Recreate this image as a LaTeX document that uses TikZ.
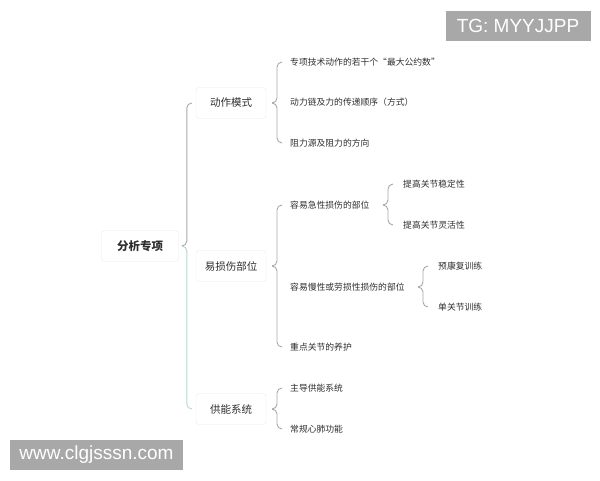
\documentclass[tikz,border=0pt]{standalone}
\usepackage{fontspec}
\usetikzlibrary{calc}
\newfontfamily\cjk{Noto Sans CJK SC}
\newfontfamily\wm{Liberation Sans}
\definecolor{linegrey}{HTML}{ADA5AD}
\definecolor{linegreen}{HTML}{B2DACD}
\definecolor{txt}{HTML}{2E2E2E}
\definecolor{wmgrey}{HTML}{A8A8A8}
% half of a curly bracket: child, parent, gap, colour
\newcommand{\halfbrace}[4]{%
  \draw[#4, line width=0.9pt, rounded corners=5pt] ($(#1.west)+(-#3+5,0)$) -- ($(#1.west)+(-#3,0)$)
    -- ($(#1.west |- #2.east)+(-#3,0)$) -- ($(#1.west |- #2.east)+(-#3-5,0)$);
}
\begin{document}
\begin{tikzpicture}[x=1pt,y=-1pt]
                    \tikzstyle{leaf}=[anchor=west,inner sep=0pt,text=txt,font=\cjk\fontsize{8.8}{11}\selectfont]
                    \tikzstyle{topic}=[draw=black!8,fill=white,rounded corners=3pt,minimum width=70pt,minimum height=31pt,text=txt,font=\cjk\fontsize{10.5}{12}\selectfont]
                    \tikzstyle{stamp}=[fill=wmgrey,text=white,inner sep=0pt,minimum height=30pt,font=\wm\fontsize{19}{22}\selectfont]
                    \useasboundingbox (0,0) rectangle (600,480);
                    \node[topic,minimum width=77pt,font=\cjk\bfseries\fontsize{11.5}{13}\selectfont] (root) at (140,246) {分析专项};
                    \node[topic] (a) at (231,103) {动作模式};
                    \node[topic] (b) at (231,266) {易损伤部位};
                    \node[topic] (c) at (231,409) {供能系统};
                    \node[leaf] (a1) at (290,62) {专项技术动作的若干个“最大公约数”};
                    \node[leaf] (a2) at (290,102) {动力链及力的传递顺序（方式）};
                    \node[leaf] (a3) at (290,143) {阻力源及阻力的方向};
                    \node[leaf] (b1) at (290,205) {容易急性损伤的部位};
                    \node[leaf] (b2) at (290,287) {容易慢性或劳损性损伤的部位};
                    \node[leaf] (b3) at (290,347) {重点关节的养护};
                    \node[leaf] (c1) at (290,388) {主导供能系统};
                    \node[leaf] (c2) at (290,429) {常规心肺功能};
                    \node[leaf] (b11) at (403,184) {提高关节稳定性};
                    \node[leaf] (b12) at (403,225) {提高关节灵活性};
                    \node[leaf] (b21) at (438,266) {预康复训练};
                    \node[leaf] (b22) at (438,307) {单关节训练};
                    \halfbrace{a}{root}{9}{linegrey}
                    \halfbrace{c}{root}{9}{linegreen}
                    \foreach \ch/\pa/\g in {a1/a/13,a3/a/13,b1/b/13,b3/b/13,c1/c/13,c2/c/13,b11/b1/15,b12/b1/15,b21/b2/15,b22/b2/15}
                      \halfbrace{\ch}{\pa}{\g}{linegrey};
                    \node[stamp,minimum width=145pt] (tg) at (518,26) {TG: MYYJJPP};
                    \node[stamp,minimum width=173pt] (site) at (96.5,455) {www.clgjsssn.com};
                \end{tikzpicture}
\end{document}
